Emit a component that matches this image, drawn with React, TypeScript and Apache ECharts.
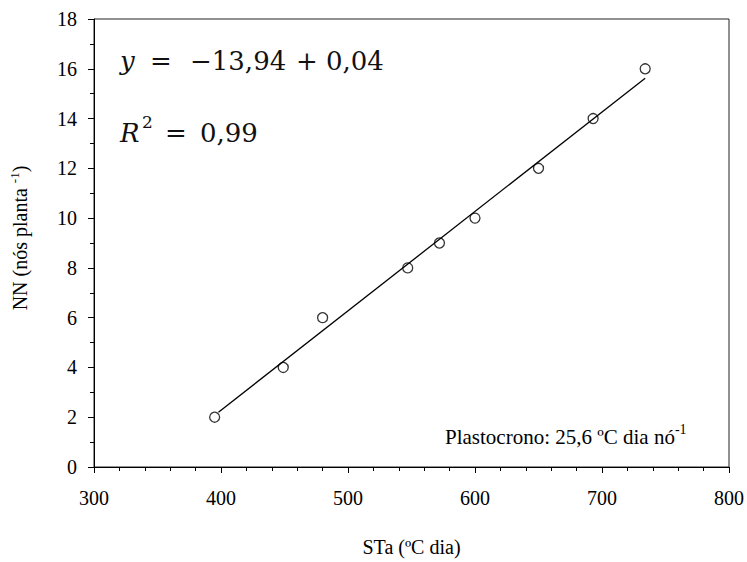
import React, { useEffect, useRef } from "react";
import * as echarts from "echarts";

const staValues = [395, 449, 480, 547, 572, 600, 650, 693, 734];
const nnValues = [2, 4, 6, 8, 9, 10, 12, 14, 16];
const fitX = [398, 734];
const fitY = [2.2, 15.62];
const xAxisTitle = "STa (ºC dia)";
const yAxisTitle = "NN (nós planta ";
const interceptText = "−13,94";
const slopeText = "0,04";
const r2Text = "0,99";
const plastocronoText = "Plastocrono: 25,6 ºC dia nó";

const serif = "Liberation Serif";
const mathFont = "DejaVu Serif";
const ink = "#111";

export default function App() {
  const ref = useRef<HTMLDivElement>(null);
  useEffect(() => {
    if (!ref.current) return;
    const chart = echarts.init(ref.current, null, { renderer: "svg" });
    const points = staValues.map((x, i) => [x, nnValues[i]]);
    const fit = fitX.map((x, i) => [x, fitY[i]]);
    const m = { fontFamily: mathFont, fontSize: 26, fill: ink, lineHeight: 40, align: "left" as const };
    chart.setOption({
      animation: false,
      backgroundColor: "#fff",
      grid: {
        left: 92.5,
        right: 16,
        top: 19,
        bottom: 81,
        show: true,
        borderColor: "#222",
        borderWidth: 1,
        backgroundColor: "transparent",
      },
      xAxis: {
        type: "value",
        min: 300,
        max: 800,
        interval: 100,
        name: xAxisTitle,
        nameLocation: "middle",
        nameGap: 70,
        nameTextStyle: { fontFamily: serif, fontSize: 20, color: "#000" },
        axisLine: { show: true, lineStyle: { color: "#000", width: 1 } },
        axisTick: { show: true, length: 6, lineStyle: { color: "#000" } },
        minorTick: { show: true, splitNumber: 5, length: 4, lineStyle: { color: "#000" } },
        splitLine: { show: false },
        axisLabel: { fontFamily: serif, fontSize: 20, color: "#000", margin: 21 },
      },
      yAxis: {
        type: "value",
        min: 0,
        max: 18,
        interval: 2,
        name: yAxisTitle + "{sup|-1}" + ")",
        nameLocation: "middle",
        nameRotate: 90,
        nameGap: 62,
        nameTextStyle: {
          fontFamily: serif,
          fontSize: 20,
          color: "#000",
          lineHeight: 24,
          padding: [0, 0, 0, 10],
          rich: {
            sup: { fontFamily: serif, fontSize: 13, color: "#000", verticalAlign: "top", lineHeight: 18 },
          },
        },
        axisLine: { show: true, lineStyle: { color: "#000", width: 1 } },
        axisTick: { show: true, length: 6, lineStyle: { color: "#000" } },
        minorTick: { show: true, splitNumber: 2, length: 4, lineStyle: { color: "#000" } },
        splitLine: { show: false },
        axisLabel: { fontFamily: serif, fontSize: 20, color: "#000", margin: 17 },
      },
      series: [
        {
          type: "line",
          data: fit,
          symbol: "none",
          lineStyle: { color: "#000", width: 1.3 },
          z: 2,
        },
        {
          type: "scatter",
          data: points,
          symbol: "circle",
          symbolSize: 10,
          itemStyle: { color: "transparent", borderColor: "#000", borderWidth: 1.3 },
          z: 3,
        },
      ],
      graphic: [
        {
          type: "text",
          left: 120,
          top: 48,
          style: {
            text: "{y|y}{eq|=}{a|" + interceptText + "}{p|+}{b|" + slopeText + "}",
            fill: ink,
            rich: {
              y: { ...m, fontStyle: "italic", width: 30 },
              eq: { ...m, width: 40 },
              a: { ...m, width: 106 },
              p: { ...m, width: 30 },
              b: { ...m },
            },
          },
        },
        {
          type: "text",
          left: 120,
          top: 113,
          style: {
            text: "{r|R}{sup|2}{eq|=}{b|" + r2Text + "}",
            fill: ink,
            rich: {
              r: { ...m, fontStyle: "italic", width: 22 },
              sup: { fontFamily: mathFont, fontSize: 17, fill: ink, verticalAlign: "top", lineHeight: 16, width: 23, align: "left" },
              eq: { ...m, width: 35 },
              b: { ...m },
            },
          },
        },
        {
          type: "text",
          left: 445,
          top: 422,
          style: {
            text: "{n|" + plastocronoText + "}{sup|-1}",
            fill: "#000",
            rich: {
              n: { fontFamily: serif, fontSize: 21, fill: "#000", lineHeight: 30 },
              sup: { fontFamily: serif, fontSize: 14, fill: "#000", verticalAlign: "top", lineHeight: 18 },
            },
          },
        },
      ],
    });
    return () => chart.dispose();
  }, []);
  return (
    <div
      ref={ref}
      style={{ position: "fixed", left: 0, top: 0, width: 747, height: 562 }}
    />
  );
}
